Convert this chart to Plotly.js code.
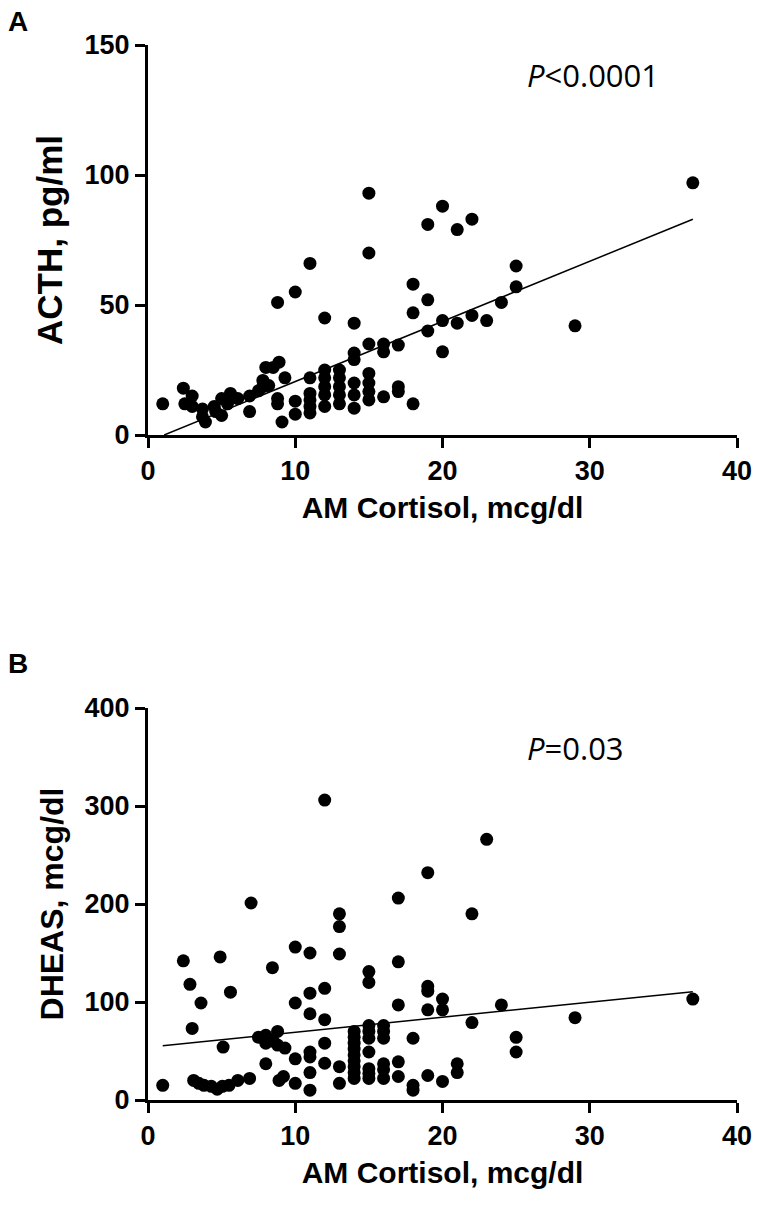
<!DOCTYPE html>
<html>
<head>
<meta charset="utf-8">
<script src="https://cdn.plot.ly/plotly-3.0.1.min.js"></script>
<style>html,body{margin:0;padding:0;background:#fff;}#chart{width:762px;height:1216px;}</style>
</head>
<body>
<div id="chart"></div>
<script>
// Panel A: AM Cortisol (mcg/dl) vs ACTH (pg/ml)
const cortisolA = [1,2.4,2.5,3,3,3.7,3.7,3.9,4.5,4.6,5,5,5.4,5.6,6.1,6.9,6.9,7.5,7.8,7.8,8,8.5,8.9,8.2,9.3,8.8,8.8,9.1,10,10,
  8.8,10,11,12,11,11,11,11,11,12,12,12,12,12,13,13,13,13,13,14,14,14,14,14,14,
  15,15,15,15,15,15,15,16,16,16,17,17,17,18,18,18,19,19,19,20,20,20,21,21,22,22,23,24,25,25,29,37];
const acth = [12,18,12,15,11,10,7,5,11,9,14,7.5,12,16,14,15,9,17,21,18.6,26,26,28,19,22,12,14,5,13,8,
  51,55,66,45,22,16,13.5,11,8.5,25,22,18.6,15.4,11,25,22,18.6,15.4,12,43,31.5,29,20,15.4,10.3,
  93,70,35,23.7,20,16.7,13.5,35,32,14.7,34.6,18.6,16.7,58,47,12,81,52,40,88,44,32,79,43,83,46,44,51,65,57,42,97];
const fitA_x = [1.1, 37];
const fitA_y = [0, 83];

// Panel B: AM Cortisol (mcg/dl) vs DHEAS (mcg/dl)
const cortisolB = [1,2.4,2.85,3.6,3.0,3.1,3.45,3.8,4.3,4.7,5.05,5.5,6.1,6.9,4.9,5.6,5.1,7,8.45,7.5,8,8,8.5,8.8,8.8,9.3,8,8.9,9.2,
  10,10,10,10,11,11,11,11,11,11,11,12,12,12,12,12,13,13,13,13,13,
  14,14,14,14,14,14,14,14,14,
  15,15,15,15,15,15,15,15,15,16,16,16,16,16,16,17,17,17,17,17,18,18,18,
  19,19,19,19,19,20,20,20,21,21,22,22,23,24,25,25,29,37];
const dheas = [15,142,118,99,73,20,17,15,14,11,14,15,20,22,146,110,54,201,135,64,66,58,60,70,56,53,37,20,24,
  156,99,42,17,150,109,88,49,44,28,10,306,114,82,58,37.5,190,177,149,34,17,
  70,64,58,52,46,40,34,28,22,
  131,120,76,70,63,49,32,27,22,76,70,63,37,31,22,206,141,97,39,24,63,15,10,
  232,116,111,92,25,103,92,19,37,28,190,79,266,97,64,49,84,103];
const fitB_x = [1, 37];
const fitB_y = [55.4, 110.5];

const xTicks = [0,10,20,30,40];
const yTicksA = [0,50,100,150];
const yTicksB = [0,100,200,300,400];

const W = 762, H = 1216;
const px = v => v / W;
const py = v => 1 - v / H;

const marker = {color:'#000', size:13, symbol:'circle', line:{width:0}};
const traces = [
  {x: cortisolA, y: acth, type:'scatter', mode:'markers', marker: marker, xaxis:'x', yaxis:'y', hoverinfo:'none'},
  {x: fitA_x, y: fitA_y, type:'scatter', mode:'lines', line:{color:'#000', width:1.5}, xaxis:'x', yaxis:'y', hoverinfo:'none'},
  {x: cortisolB, y: dheas, type:'scatter', mode:'markers', marker: marker, xaxis:'x2', yaxis:'y2', hoverinfo:'none'},
  {x: fitB_x, y: fitB_y, type:'scatter', mode:'lines', line:{color:'#000', width:1.5}, xaxis:'x2', yaxis:'y2', hoverinfo:'none'}
];

const FAM = 'Liberation Sans, Arial, sans-serif';
const tickFont = {family: FAM, size:27, color:'#000', weight:'bold'};
const xTitleFont = {family: FAM, size:30, color:'#000', weight:'bold'};

function xAxis(anchor, dom){
  return {domain: dom, anchor: anchor, range:[0,40], tickvals: xTicks, ticktext: xTicks.map(String),
    showline:true, linecolor:'#000', linewidth:3, ticks:'outside', ticklen:10, tickwidth:3, tickcolor:'#000',
    showgrid:false, zeroline:false, tickfont: tickFont, fixedrange:true,
    title:{text:'AM Cortisol, mcg/dl', font: xTitleFont, standoff: 12}};
}
function yAxis(anchor, dom, range, vals, title, tsize){
  return {domain: dom, anchor: anchor, range: range, tickvals: vals, ticktext: vals.map(String),
    showline:true, linecolor:'#000', linewidth:3, ticks:'outside', ticklen:10, tickwidth:3, tickcolor:'#000',
    showgrid:false, zeroline:false, tickfont: tickFont, fixedrange:true,
    title:{text: title, font: {family: FAM, size: tsize, color:'#000', weight:'bold'}, standoff: 12}};
}

const layout = {
  width: W, height: H, margin:{l:0,r:0,t:0,b:0}, showlegend:false,
  paper_bgcolor:'#fff', plot_bgcolor:'#fff',
  xaxis: xAxis('y', [px(148), px(737)]),
  yaxis: yAxis('x', [py(435), py(45)], [0,150], yTicksA, 'ACTH, pg/ml', 35),
  xaxis2: xAxis('y2', [px(148), px(737)]),
  yaxis2: yAxis('x2', [py(1100), py(708)], [0,400], yTicksB, 'DHEAS, mcg/dl', 32),
  annotations: [
    {text:'<b>A</b>', xref:'paper', yref:'paper', x: px(6), y: py(21), xanchor:'left', yanchor:'middle', showarrow:false,
      font:{family: FAM, size:28, color:'#000'}},
    {text:'<b>B</b>', xref:'paper', yref:'paper', x: px(6), y: py(663), xanchor:'left', yanchor:'middle', showarrow:false,
      font:{family: FAM, size:28, color:'#000'}},
    {text:'<i>P</i><0.0001', xref:'paper', yref:'paper', x: px(525), y: py(75), xanchor:'left', yanchor:'middle', showarrow:false,
      font:{family:'Open Sans, Liberation Sans, sans-serif', size:31, color:'#000'}},
    {text:'<i>P</i>=0.03', xref:'paper', yref:'paper', x: px(525), y: py(748), xanchor:'left', yanchor:'middle', showarrow:false,
      font:{family:'Open Sans, Liberation Sans, sans-serif', size:31, color:'#000'}}
  ]
};

Plotly.newPlot('chart', traces, layout, {displayModeBar:false, staticPlot:true});
</script>
</body>
</html>
